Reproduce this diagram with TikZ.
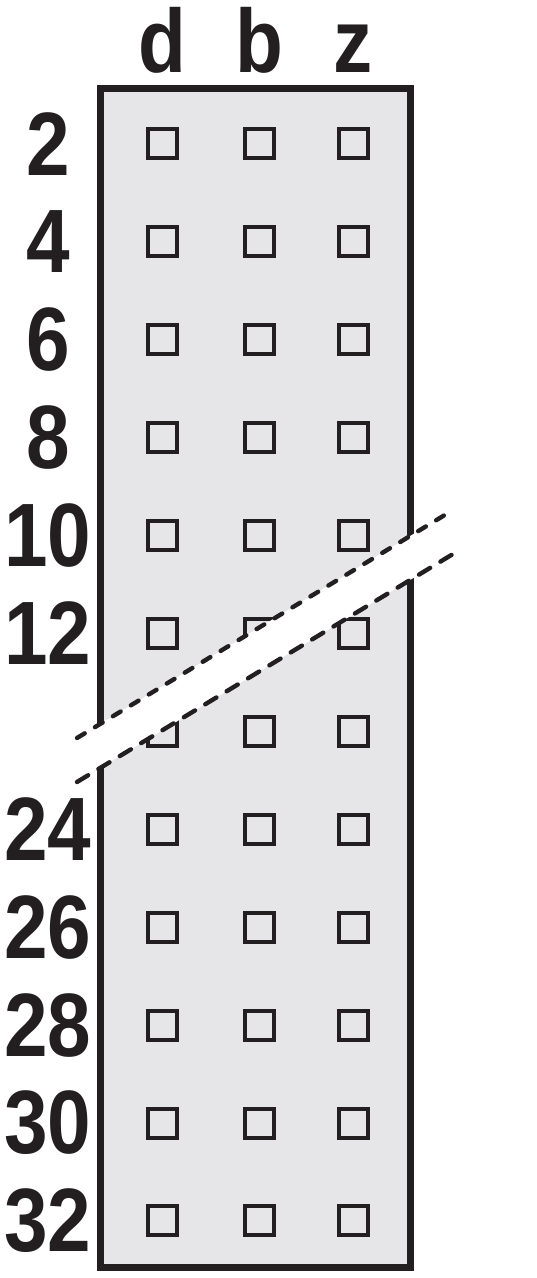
\documentclass[tikz,border=0pt]{standalone}
\usepackage{fontspec}
\setmainfont{Liberation Sans}[FakeStretch=0.87]
\definecolor{ink}{HTML}{231F20}
\definecolor{panel}{HTML}{E6E6E8}
\tikzset{
	pin/.style={draw=ink, line width=2pt, minimum size=14.5pt, inner sep=0pt},
	rowlabel/.style={text=ink, inner sep=0pt, font=\fontsize{45}{45}\selectfont\bfseries},
	collabel/.style={rowlabel, anchor=base},
	cutline/.style={ink, line width=2.2pt, line cap=round},
}
\begin{document}
\begin{tikzpicture}[x=0.5pt,y=-0.5pt]
	\useasboundingbox (0,0) rectangle (536,1278);
	% housing
	\draw[ink, fill=panel, line width=3.5pt] (100.5,88.5) rectangle (410,1267);
	% columns d, b, z
	\foreach \c/\x in {d/162,b/259,z/353} {
		\node[collabel] (head-\c) at (\x,73) {\c};
		\foreach \i in {0,...,11}
			\node[pin] (pin-\c-\i) at (\x,144+97.9*\i) {};
	}
	% row numbers
	\foreach \r/\i in {2/0,4/1,6/2,8/3,10/4,12/5,24/7,26/8,28/9,30/10,32/11}
		\node[rowlabel] (row-\r) at (48,144+97.9*\i) {\r};
	% break
	\coordinate (cut-ul) at (77,738);
	\coordinate (cut-ur) at (453,510);
	\coordinate (cut-lr) at (453,554);
	\coordinate (cut-ll) at (77,782);
	\fill[white] (cut-ul) -- (cut-ur) -- (cut-lr) -- (cut-ll) -- cycle;
	\draw[cutline, dash pattern=on 4.5pt off 6pt] (cut-ul) -- (cut-ur);
	\draw[cutline, dash pattern=on 6.5pt off 6pt] (cut-ll) -- (cut-lr);
\end{tikzpicture}
\end{document}
